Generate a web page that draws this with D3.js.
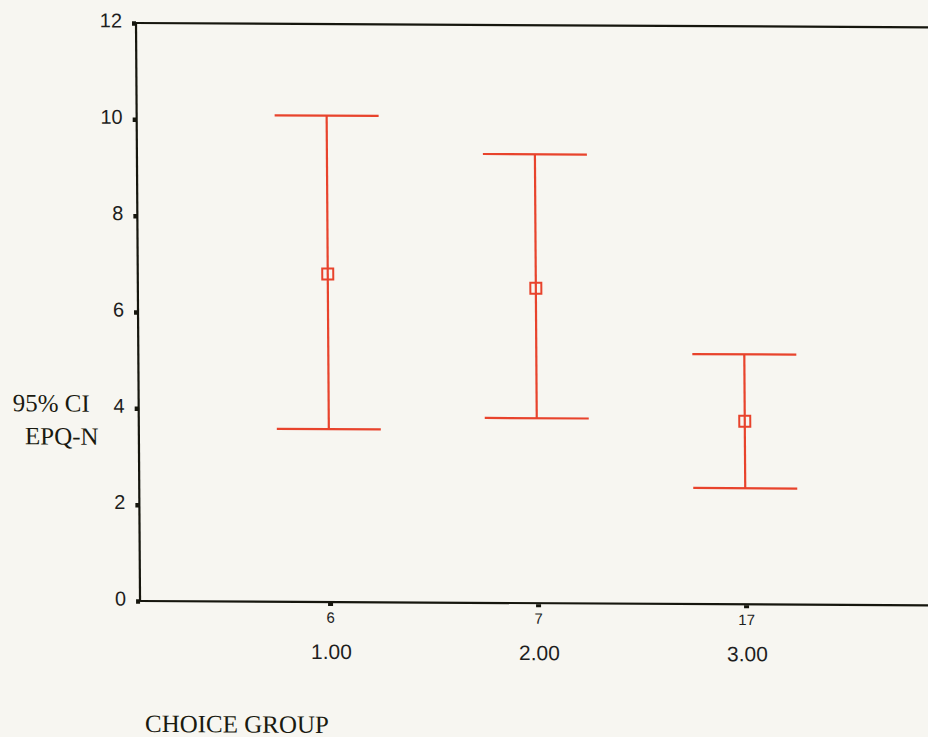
<!DOCTYPE html>
<html>
<head>
<meta charset="utf-8">
<script src="https://cdn.jsdelivr.net/npm/d3@7"></script>
<style>
  html, body { margin: 0; padding: 0; background: #f7f6f1; }
  svg { display: block; }
</style>
</head>
<body>
<svg id="chart" width="928" height="737"></svg>
<script>
// Choice groups with their sample sizes
const groups = [1, 2, 3];
const groupLabels = ["1.00", "2.00", "3.00"];
const counts = [6, 7, 17];

// EPQ-N means and 95% confidence limits per group
const means = [6.81, 6.54, 3.80];
const lower = [3.59, 3.84, 2.41];
const upper = [10.10, 9.32, 5.19];

const yTicks = [0, 2, 4, 6, 8, 10, 12];

const W = 928, H = 737;
const plot = { left: 136, top: 23, right: 945, bottom: 601 };

const svg = d3.select("#chart");
svg.append("rect").attr("width", W).attr("height", H).attr("fill", "#f7f6f1");

// the printed page sits slightly askew
const g = svg.append("g")
  .attr("transform", "matrix(1,0.0055,0.007,1," + (-0.007 * plot.top) + "," + (-0.0055 * plot.left) + ")");

const x = d3.scaleLinear().domain([1, 3]).range([326, 742]);
const y = d3.scaleLinear().domain([0, 12]).range([plot.bottom, plot.top]);

const ink = "#16160e";
const red = "#e8432c";
const sans = "'Liberation Sans', Arial, sans-serif";
const serif = "'Liberation Serif', 'Times New Roman', serif";

// frame: left axis, top rule, bottom axis
g.append("line").attr("x1", plot.left).attr("x2", plot.left)
  .attr("y1", plot.top).attr("y2", plot.bottom)
  .attr("stroke", ink).attr("stroke-width", 2.2);
g.append("line").attr("x1", plot.left).attr("x2", plot.right)
  .attr("y1", plot.top).attr("y2", plot.top)
  .attr("stroke", ink).attr("stroke-width", 2.2);
g.append("line").attr("x1", plot.left).attr("x2", plot.right)
  .attr("y1", plot.bottom).attr("y2", plot.bottom)
  .attr("stroke", ink).attr("stroke-width", 2.2);

// y axis
const yAxis = g.append("g")
  .attr("transform", `translate(${plot.left},0)`)
  .call(d3.axisLeft(y).tickValues(yTicks).tickFormat(d3.format("d"))
    .tickSize(4).tickSizeOuter(0).tickPadding(10));
yAxis.select(".domain").remove();
yAxis.selectAll(".tick line").attr("stroke", ink).attr("stroke-width", 4.5);
yAxis.selectAll(".tick text")
  .attr("fill", "#1e1e1e")
  .attr("dy", "0.2em")
  .style("font-family", sans)
  .style("font-size", "20px");

// x axis: case counts under each group tick
const xAxis = g.append("g")
  .attr("transform", `translate(0,${plot.bottom})`)
  .call(d3.axisBottom(x).tickValues(groups)
    .tickFormat((d, i) => counts[i]).tickSize(4).tickSizeOuter(0).tickPadding(6));
xAxis.select(".domain").remove();
xAxis.selectAll(".tick line").attr("stroke", ink).attr("stroke-width", 5).attr("y1", 1);
xAxis.selectAll(".tick text")
  .attr("fill", "#1e1e1e")
  .style("font-family", sans)
  .style("font-size", "15px");

// group labels
g.selectAll("text.group")
  .data(groups)
  .join("text")
  .attr("class", "group")
  .attr("x", d => x(d) + 1)
  .attr("y", 658)
  .attr("text-anchor", "middle")
  .attr("fill", "#1e1e1e")
  .style("font-family", sans)
  .style("font-size", "21px")
  .text((d, i) => groupLabels[i]);

// error bars
const capHalf = 52;
const bars = g.selectAll("g.bar")
  .data(groups.map((d, i) => ({ g: d, m: means[i], lo: lower[i], hi: upper[i] })))
  .join("g").attr("class", "bar");

bars.append("line")
  .attr("x1", d => x(d.g)).attr("x2", d => x(d.g))
  .attr("y1", d => y(d.hi)).attr("y2", d => y(d.lo))
  .attr("stroke", red).attr("stroke-width", 2.2);
bars.append("line")
  .attr("x1", d => x(d.g) - capHalf).attr("x2", d => x(d.g) + capHalf)
  .attr("y1", d => y(d.hi)).attr("y2", d => y(d.hi))
  .attr("stroke", red).attr("stroke-width", 2.2);
bars.append("line")
  .attr("x1", d => x(d.g) - capHalf).attr("x2", d => x(d.g) + capHalf)
  .attr("y1", d => y(d.lo)).attr("y2", d => y(d.lo))
  .attr("stroke", red).attr("stroke-width", 2.2);
bars.append("rect")
  .attr("x", d => x(d.g) - 5.5).attr("y", d => y(d.m) - 5.5)
  .attr("width", 11).attr("height", 11)
  .attr("fill", "none").attr("stroke", red).attr("stroke-width", 2);

// axis titles
g.append("text").attr("x", 10).attr("y", 412)
  .attr("fill", "#1a1a10").style("font-family", serif).style("font-size", "25px")
  .text("95% CI");
g.append("text").attr("x", 22).attr("y", 445)
  .attr("fill", "#1a1a10").style("font-family", serif).style("font-size", "25px")
  .text("EPQ-N");
g.append("text").attr("x", 140).attr("y", 732)
  .attr("fill", "#1a1a10").style("font-family", serif).style("font-size", "25px")
  .text("CHOICE GROUP");
</script>
</body>
</html>
